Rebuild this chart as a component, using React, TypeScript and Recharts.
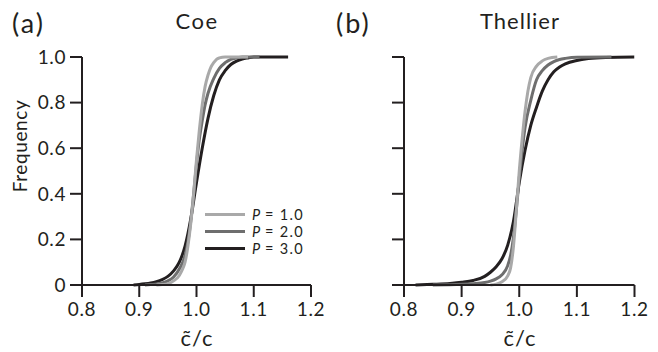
import React from 'react';
import { LineChart, Line, XAxis, YAxis } from 'recharts';

const xTicks = [0.8, 0.9, 1.0, 1.1, 1.2];
const yTicks = [0, 0.2, 0.4, 0.6, 0.8, 1.0];
const seriesNames = ['1.0', '2.0', '3.0'];
const seriesColors = ['#a9a9a9', '#6e6e6e', '#231f20'];

// Coe panel
const coeX1 = [0.93, 0.94, 0.95, 0.96, 0.97, 0.975, 0.98, 0.985, 0.99, 0.995, 1.0, 1.005, 1.01, 1.015, 1.02, 1.025, 1.03, 1.035, 1.04, 1.05, 1.07, 1.09];
const coeY1 = [0, 0.002, 0.006, 0.018, 0.042, 0.066, 0.1, 0.17, 0.27, 0.4, 0.55, 0.68, 0.79, 0.87, 0.92, 0.955, 0.975, 0.99, 0.996, 1, 1, 1];
const coeX2 = [0.91, 0.92, 0.93, 0.94, 0.95, 0.96, 0.97, 0.98, 0.985, 0.99, 0.995, 1.0, 1.005, 1.01, 1.015, 1.02, 1.03, 1.04, 1.05, 1.06, 1.07, 1.08, 1.11];
const coeY2 = [0, 0.002, 0.004, 0.009, 0.018, 0.035, 0.07, 0.13, 0.19, 0.28, 0.4, 0.53, 0.64, 0.72, 0.79, 0.84, 0.905, 0.95, 0.975, 0.99, 0.996, 1, 1];
const coeX3 = [0.89, 0.9, 0.91, 0.92, 0.93, 0.94, 0.95, 0.96, 0.97, 0.98, 0.99, 1.0, 1.01, 1.02, 1.03, 1.04, 1.05, 1.06, 1.07, 1.08, 1.09, 1.1, 1.16];
const coeY3 = [0, 0.002, 0.005, 0.009, 0.015, 0.024, 0.038, 0.062, 0.1, 0.17, 0.29, 0.45, 0.6, 0.73, 0.83, 0.9, 0.94, 0.967, 0.982, 0.991, 0.996, 1, 1];

// Thellier panel
const thX1 = [0.95, 0.96, 0.97, 0.98, 0.985, 0.99, 0.995, 1.0, 1.005, 1.01, 1.015, 1.02, 1.03, 1.04, 1.05, 1.066];
const thY1 = [0, 0.004, 0.014, 0.04, 0.075, 0.17, 0.33, 0.5, 0.64, 0.76, 0.85, 0.91, 0.96, 0.983, 0.994, 1];
const thX2 = [0.85, 0.9, 0.92, 0.94, 0.95, 0.96, 0.97, 0.98, 0.985, 0.99, 0.995, 1.0, 1.005, 1.01, 1.02, 1.03, 1.04, 1.05, 1.06, 1.07, 1.08, 1.1, 1.16];
const thY2 = [0, 0.003, 0.006, 0.011, 0.017, 0.027, 0.045, 0.085, 0.13, 0.21, 0.33, 0.47, 0.59, 0.69, 0.81, 0.9, 0.94, 0.965, 0.98, 0.989, 0.994, 0.999, 1];
const thX3 = [0.82, 0.85, 0.88, 0.9, 0.92, 0.94, 0.95, 0.96, 0.97, 0.98, 0.99, 1.0, 1.01, 1.02, 1.03, 1.04, 1.05, 1.06, 1.07, 1.08, 1.1, 1.12, 1.15, 1.2];
const thY3 = [0, 0.003, 0.007, 0.012, 0.02, 0.038, 0.056, 0.08, 0.115, 0.175, 0.28, 0.45, 0.59, 0.7, 0.78, 0.85, 0.9, 0.935, 0.956, 0.97, 0.985, 0.993, 0.998, 1];

const zip = (xs: number[], ys: number[]) => xs.map((x, i) => ({ x, y: ys[i] }));

const INK = '#231f20';
const FONT = 'Lato, "DejaVu Sans", sans-serif';

type PanelProps = {
  left: number;
  width: number;
  plotLeft: number;
  plotRight: number;
  series: { x: number; y: number }[][];
  showYLabels: boolean;
};

function Panel({ left, width, plotLeft, plotRight, series, showYLabels }: PanelProps) {
  const fmtX = (v: number) => v.toFixed(1);
  const fmtY = (v: number) => (showYLabels ? (v === 0 ? '0' : v.toFixed(1)) : '');
  const tickStyle = { fill: INK, fontSize: 19, fontFamily: FONT, letterSpacing: 0.6 };
  return (
    <div style={{ position: 'absolute', left, top: 0 }}>
      <LineChart
        width={width}
        height={352}
        margin={{ top: 57, right: width - plotRight, bottom: 0, left: 0 }}
      >
        <XAxis
          dataKey="x"
          type="number"
          domain={[0.8, 1.2]}
          ticks={xTicks}
          tickFormatter={fmtX}
          allowDataOverflow
          height={67}
          tickSize={12}
          tickMargin={6}
          axisLine={{ stroke: INK, strokeWidth: 2 }}
          tickLine={{ stroke: INK, strokeWidth: 2 }}
          tick={tickStyle}
        />
        <YAxis
          dataKey="y"
          type="number"
          domain={[0, 1]}
          ticks={yTicks}
          tickFormatter={fmtY}
          width={plotLeft}
          tickSize={12}
          tickMargin={4}
          axisLine={{ stroke: INK, strokeWidth: 2 }}
          tickLine={{ stroke: INK, strokeWidth: 2 }}
          tick={tickStyle}
        />
        {[2, 1, 0].map((i) => (
          <Line
            key={i}
            data={series[i]}
            dataKey="y"
            type="monotone"
            stroke={seriesColors[i]}
            strokeWidth={3}
            dot={false}
            isAnimationActive={false}
          />
        ))}
      </LineChart>
    </div>
  );
}

export default function App() {
  const coe = [zip(coeX1, coeY1), zip(coeX2, coeY2), zip(coeX3, coeY3)];
  const th = [zip(thX1, thY1), zip(thX2, thY2), zip(thX3, thY3)];
  return (
    <div style={{ position: 'fixed', left: 0, top: 0, width: 658, height: 352, background: '#fff', overflow: 'hidden' }}>
      <Panel left={0} width={330} plotLeft={82} plotRight={311} series={coe} showYLabels={true} />
      <Panel left={330} width={328} plotLeft={74} plotRight={304.5} series={th} showYLabels={false} />
      <svg
        width={658}
        height={352}
        style={{ position: 'absolute', left: 0, top: 0, pointerEvents: 'none' }}
        fontFamily={FONT}
        fill={INK}
      >
        <text x={12} y={33} fontSize={27} letterSpacing={2}>(a)</text>
        <text x={197} y={29} fontSize={22} letterSpacing={1.5} textAnchor="middle">Coe</text>
        <text x={336} y={33} fontSize={27} letterSpacing={2}>(b)</text>
        <text x={520} y={29} fontSize={22} letterSpacing={1} textAnchor="middle">Thellier</text>
        <text transform="translate(27,146) rotate(-90)" fontSize={19} letterSpacing={0.6} textAnchor="middle">Frequency</text>
        <text x={197} y={346} fontSize={22} letterSpacing={1} textAnchor="middle">{'c\u0303/c'}</text>
        <text x={520} y={346} fontSize={22} letterSpacing={1} textAnchor="middle">{'c\u0303/c'}</text>
        {seriesNames.map((n, i) => (
          <g key={n}>
            <line x1={205} x2={245} y1={214.5 + i * 17} y2={214.5 + i * 17} stroke={seriesColors[i]} strokeWidth={3} />
            <text x={252} y={219.5 + i * 17} fontSize={14.5} fontStyle="italic">P</text>
            <text x={265} y={219.5 + i * 17} fontSize={14.5} letterSpacing={1.3}>{'= ' + n}</text>
          </g>
        ))}
      </svg>
    </div>
  );
}
